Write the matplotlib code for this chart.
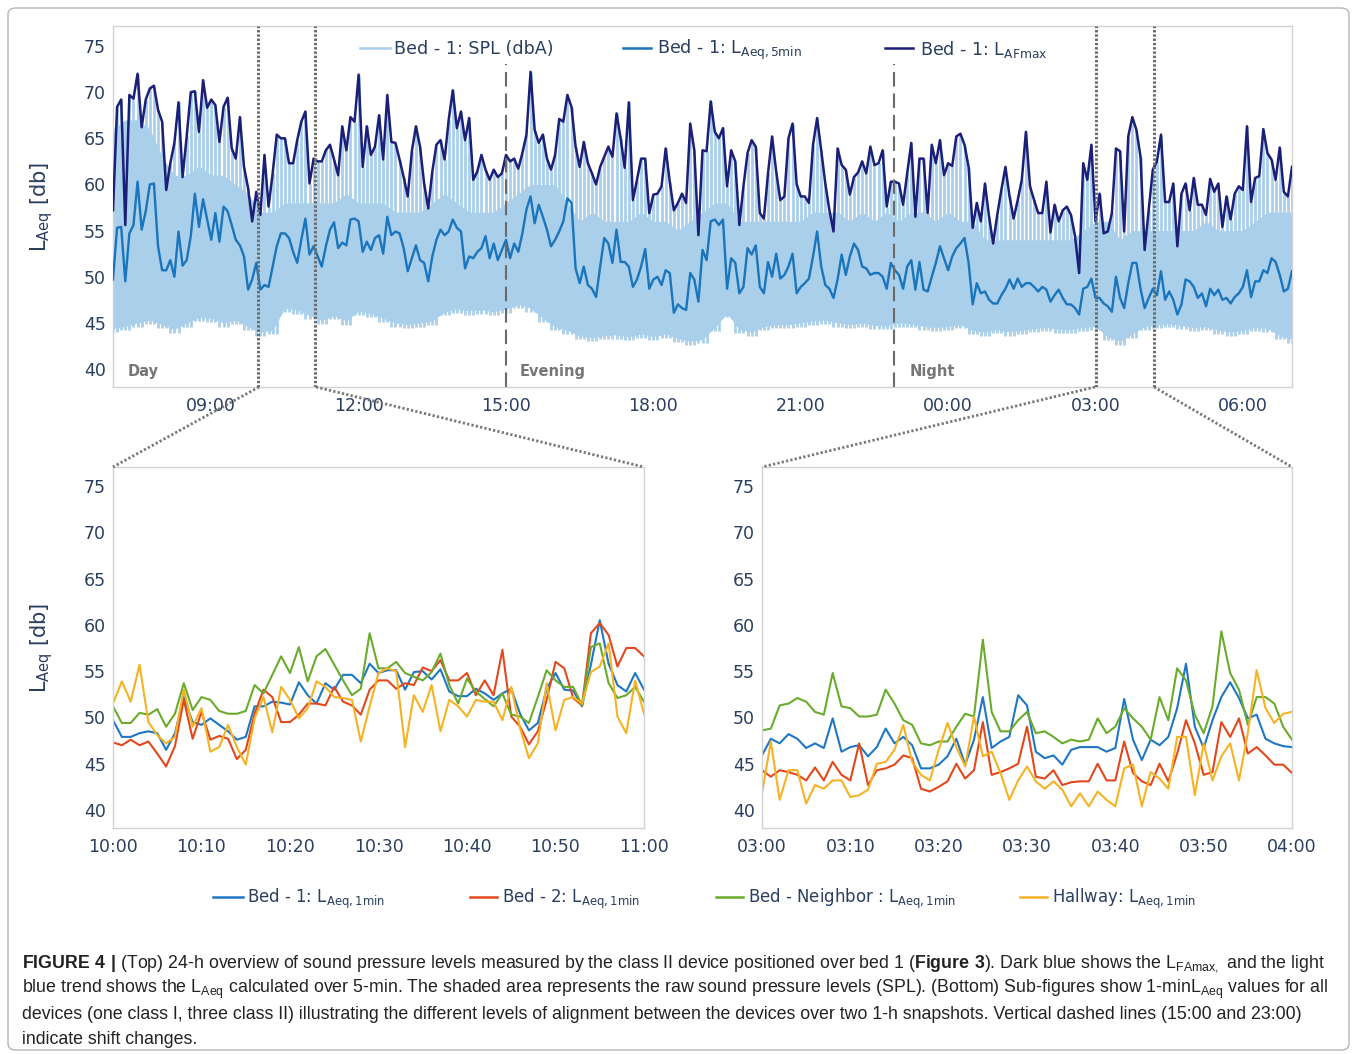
import numpy as np
import matplotlib
matplotlib.use("Agg")
import matplotlib.pyplot as plt
from matplotlib.lines import Line2D
from matplotlib.patches import FancyBboxPatch
from matplotlib import font_manager

# ---- top panel: 5-min values, 07:00 -> 07:00 next day ----
laeq_5min = [
    49.7, 55.3, 55.4, 49.5, 54.7, 55.6, 60.3, 55.1, 57.1, 60.0, 60.1, 53.3, 50.7, 50.7, 51.8, 50.0, 54.9, 51.2, 51.8, 54.4,
    59.0, 55.4, 58.4, 56.2, 54.0, 56.9, 53.8, 57.6, 57.1, 55.6, 54.0, 53.4, 52.2, 48.6, 49.7, 51.5, 48.6, 49.1, 48.9, 51.1,
    53.3, 54.7, 54.7, 54.2, 52.7, 51.5, 54.0, 56.3, 52.4, 53.3, 52.2, 51.1, 53.3, 55.1, 55.9, 53.1, 53.7, 53.4, 56.2, 56.3,
    56.0, 52.7, 53.8, 52.9, 54.2, 54.5, 52.5, 56.5, 54.5, 54.9, 54.7, 53.1, 50.6, 52.0, 53.4, 51.8, 51.5, 49.5, 52.2, 54.0,
    55.1, 54.5, 54.9, 56.2, 55.3, 54.9, 50.9, 52.2, 52.0, 52.7, 53.1, 54.4, 52.0, 53.6, 51.8, 52.9, 54.0,
    52.0, 53.6, 52.7, 54.7, 57.3, 58.7, 55.8, 57.8, 56.5, 55.1, 53.3, 54.0, 54.9, 56.0, 58.5, 58.0, 50.9, 49.3, 51.1, 49.1,
    48.7, 47.8, 51.1, 54.2, 53.6, 51.5, 55.1, 51.6, 51.6, 51.1, 48.9, 49.7, 51.1, 53.0, 48.7, 49.7, 50.0, 49.1, 50.7, 50.4,
    46.1, 47.0, 46.6, 46.4, 50.4, 49.7, 47.3, 52.9, 51.8, 56.0, 56.2, 55.6, 56.2, 48.7, 52.0, 51.5, 48.2, 48.9, 53.1, 52.4,
    53.4, 48.9, 48.2, 51.6, 50.0, 52.5, 49.8, 50.2, 51.1, 52.5, 48.2, 48.9, 49.3, 49.8, 52.2, 54.9, 51.1, 49.1,
    48.7, 47.7, 49.7, 52.4, 50.2, 52.2, 53.6, 52.9, 51.1, 50.9, 50.2, 50.4, 50.4, 50.0, 48.7, 51.5, 50.7, 50.2, 48.7, 51.1,
    51.8, 48.6, 51.6, 48.6, 48.4, 50.0, 51.5, 53.3, 52.0, 50.7, 52.2, 53.1, 53.6, 54.2, 51.5, 47.0, 49.3, 48.2, 48.4, 47.5,
    47.1, 47.1, 48.0, 48.7, 49.7, 48.7, 49.8, 48.9, 49.3, 49.3, 48.9, 48.4, 48.9, 48.6, 47.3, 48.0, 48.6,
    47.7, 47.0, 47.0, 46.6, 45.9, 48.7, 48.9, 49.8, 47.7, 47.7, 47.1, 46.8, 46.2, 50.0, 47.7, 46.6, 49.3, 51.5, 51.5, 48.7,
    46.6, 47.7, 48.7, 48.0, 50.6, 47.5, 48.4, 47.5, 45.9, 47.0, 49.7, 49.5, 48.9, 47.7, 48.2, 46.8, 48.7, 48.0, 48.6, 47.5,
    47.7, 47.1, 47.8, 48.2, 48.9, 50.7, 47.8, 49.5, 49.5, 50.7, 50.4, 52.0, 51.6, 50.2, 48.4, 48.7, 50.6,
]
lafmax_5min = [
    57.2, 68.4, 69.2, 55.6, 69.7, 69.3, 72.0, 66.2, 69.2, 70.4, 70.7, 68.1, 66.8, 59.4, 62.3, 64.5, 68.9, 60.8, 65.2, 70.0,
    70.1, 65.7, 71.3, 68.3, 69.2, 68.6, 64.6, 68.4, 69.4, 63.9, 62.8, 67.3, 61.9, 59.6, 56.0, 59.2, 56.7, 63.2, 57.6, 61.2,
    65.4, 65.0, 65.0, 62.3, 62.3, 64.8, 66.8, 67.9, 60.1, 62.8, 62.5, 62.5, 63.7, 64.3, 62.7, 61.0, 66.3, 63.7, 67.3, 66.8,
    71.9, 61.9, 66.3, 63.2, 64.1, 67.5, 62.7, 69.7, 64.6, 64.5, 62.7, 60.8, 58.7, 63.6, 66.3, 64.1, 60.1, 57.4, 61.4, 64.3,
    64.8, 62.7, 67.0, 70.2, 66.1, 67.9, 64.8, 67.2, 60.5, 61.4, 63.2, 61.6, 60.5, 61.6, 60.8, 61.2, 63.2,
    62.5, 62.8, 61.7, 63.4, 65.4, 72.2, 65.9, 64.5, 65.4, 62.8, 61.6, 63.2, 67.1, 66.8, 69.7, 68.4, 64.1, 61.9, 64.6, 62.3,
    61.2, 60.0, 61.9, 63.0, 64.1, 63.0, 67.7, 65.0, 61.8, 68.9, 58.3, 60.5, 62.8, 62.8, 56.9, 58.9, 59.0, 59.8, 63.9, 60.3,
    57.2, 58.0, 59.0, 58.0, 66.6, 63.7, 54.5, 63.7, 63.6, 69.0, 65.7, 65.0, 66.1, 59.8, 63.7, 62.5, 55.6, 59.8, 63.4, 64.8,
    64.1, 56.9, 56.3, 61.2, 65.2, 61.4, 58.3, 58.7, 65.0, 66.6, 60.0, 58.7, 58.7, 58.0, 64.3, 67.2, 63.7, 60.1,
    57.2, 54.9, 63.9, 62.1, 61.6, 58.9, 60.8, 61.3, 62.5, 61.2, 64.1, 62.1, 62.3, 63.7, 57.6, 60.3, 60.3, 60.1, 57.8, 61.2,
    64.5, 56.5, 62.8, 62.8, 56.9, 64.3, 62.3, 64.8, 61.0, 62.3, 62.0, 65.2, 65.5, 64.3, 61.9, 55.3, 58.0, 56.0, 60.1, 56.5,
    53.6, 56.7, 59.4, 61.9, 58.7, 56.3, 58.3, 60.5, 65.7, 59.8, 58.3, 56.9, 56.9, 60.3, 54.8, 57.8, 56.0,
    57.2, 57.6, 56.7, 54.4, 50.4, 62.3, 60.5, 64.3, 56.0, 59.0, 54.7, 54.9, 56.9, 63.9, 63.6, 54.9, 65.2, 67.3, 65.9, 63.0,
    52.9, 57.2, 61.6, 62.5, 65.4, 58.1, 58.1, 60.1, 53.3, 59.0, 60.1, 57.2, 60.7, 57.8, 57.8, 56.7, 60.6, 59.2, 60.1, 55.4,
    58.7, 56.2, 59.0, 59.8, 59.4, 66.3, 58.1, 60.7, 60.9, 66.0, 63.4, 62.7, 60.5, 64.0, 59.2, 58.7, 61.9,
]
# raw SPL band, 15-min resolution: lower edge and top of the dense part
spl_low = [
    44.4, 44.6, 45.0, 45.3, 44.8, 44.3, 45.0, 45.6, 45.5, 45.0, 45.3, 44.6, 44.0, 44.2, 46.6, 46.4, 45.8, 45.3, 45.8, 45.2,
    46.3, 46.0, 45.5, 45.0, 44.8, 45.0, 45.2, 46.2, 46.5, 46.3, 46.4, 46.2, 46.5, 47.0, 46.6, 45.5, 44.6, 44.2, 43.6,
    43.4, 43.6, 43.7, 43.5, 43.8, 43.5, 43.8, 43.3, 43.0, 43.2, 44.5, 46.0, 44.3, 44.0, 44.6, 44.8, 44.8, 45.0, 45.2, 45.3,
    45.0, 44.8, 45.0, 44.7, 44.7, 45.0, 44.9, 44.6, 44.5, 44.6, 44.8, 44.2, 44.0, 44.3, 44.0, 44.2, 44.4, 44.5, 44.3,
    44.3, 44.5, 44.6, 43.5, 43.0, 43.8, 44.6, 44.8, 44.9, 44.7, 44.5, 44.6, 44.2, 44.0, 44.2, 44.5, 44.4, 43.6, 43.2,
]
spl_dense = [
    66, 67, 67, 66, 63, 61, 61, 62, 61, 61, 60, 59, 57, 57, 58, 58, 58, 58, 58, 59,
    58, 58, 58, 57, 57, 57, 58, 59, 58, 57, 57, 57, 58, 59, 60, 60, 60, 58, 56,
    57, 56, 56, 56, 57, 56, 56, 55, 56, 57, 58, 58, 56, 56, 56, 56, 56, 56, 57, 57,
    57, 56, 57, 56, 57, 56, 57, 57, 56, 57, 56, 56, 54, 54, 54, 54, 54, 54, 54,
    54, 55, 56, 56, 54, 55, 55, 55, 55, 55, 55, 56, 55, 55, 55, 56, 57, 57, 57,
]
top_ticks = [9, 12, 15, 18, 21, 24, 27, 30]
top_labels = ["09:00", "12:00", "15:00", "18:00", "21:00", "00:00", "03:00", "06:00"]
shift_changes = [15.0, 22.9]
snapshots = [(9.96, 11.12), (27.0, 28.2)]
periods = [("Day", 7.3), ("Evening", 15.27), ("Night", 23.22)]

# ---- bottom panels: 1-min LAeq ----
am_bed1 = [49.7, 47.9, 47.9, 48.3, 48.5, 48.3, 46.5, 48.3, 52.2, 49.5, 49.2, 49.9, 49.2, 48.5, 47.6, 47.9, 51.2, 51.2,
           51.7, 51.6, 51.4, 53.8, 52.4, 51.5, 53.7, 53.0, 54.6, 54.6, 53.7, 55.8, 54.8, 55.1, 55.1, 53.0, 54.9, 55.0,
           54.1, 55.2, 52.8, 52.3, 52.3, 53.1, 52.6, 51.9, 52.6, 53.1, 50.4, 48.6, 49.4, 53.1, 54.8, 53.0, 52.9, 51.2,
           55.7, 60.5, 55.8, 53.5, 52.8, 54.8, 53.0]
am_bed2 = [47.3, 47.0, 47.6, 47.0, 47.4, 46.1, 44.7, 46.9, 51.9, 47.7, 50.6, 47.6, 48.0, 47.7, 45.5, 46.5, 50.4, 53.0,
           52.2, 49.5, 49.5, 50.3, 51.5, 51.5, 51.3, 53.3, 51.7, 51.3, 50.3, 53.0, 54.0, 54.0, 53.1, 53.7, 53.5, 55.4,
           55.0, 56.2, 54.0, 54.0, 54.8, 52.4, 54.0, 52.4, 57.3, 50.1, 49.0, 47.1, 48.5, 51.9, 56.0, 55.3, 52.1, 51.3,
           59.1, 60.2, 58.9, 55.5, 57.5, 57.5, 56.6]
am_neighbor = [51.2, 49.4, 49.4, 50.5, 50.3, 50.9, 49.0, 50.4, 53.7, 50.8, 52.2, 51.9, 50.7, 50.4, 50.4, 50.7, 53.5,
               52.6, 54.6, 56.6, 54.8, 57.6, 53.9, 56.6, 57.4, 55.7, 54.0, 52.4, 53.1, 59.1, 55.3, 55.3, 56.0, 54.8,
               54.4, 54.0, 54.9, 56.9, 53.5, 51.5, 54.2, 52.8, 52.0, 51.2, 52.6, 50.3, 50.1, 49.4, 52.2, 55.1, 54.0,
               53.3, 53.3, 51.3, 57.6, 58.0, 53.7, 52.1, 52.4, 53.3, 51.7]
am_hallway = [51.5, 53.9, 51.7, 55.7, 49.5, 48.1, 47.2, 47.9, 53.0, 49.0, 51.0, 46.3, 46.8, 49.2, 46.8, 44.9, 49.9,
              52.2, 48.4, 53.3, 51.9, 49.9, 51.0, 53.9, 53.3, 52.2, 52.1, 51.9, 47.4, 51.2, 54.8, 55.3, 55.0, 46.8,
              52.4, 50.6, 53.5, 48.5, 51.9, 51.2, 50.1, 51.9, 51.7, 51.7, 49.7, 53.3, 48.8, 45.6, 47.2, 53.7, 48.6,
              51.9, 52.2, 51.5, 54.9, 55.5, 58.0, 50.1, 48.3, 54.0, 50.4]
night_bed1 = [45.9, 47.7, 47.2, 48.2, 47.7, 46.7, 47.2, 46.7, 49.9, 46.3, 46.8, 47.0, 45.8, 46.8, 48.8, 47.2, 47.9,
              47.0, 44.5, 44.5, 44.9, 45.8, 47.7, 44.9, 47.6, 52.2, 46.7, 47.4, 47.9, 52.4, 51.3, 46.3, 45.6, 45.9,
              44.9, 46.5, 46.8, 46.8, 46.8, 46.3, 46.7, 52.0, 47.6, 45.4, 47.6, 47.0, 47.9, 51.0, 55.8, 49.0, 46.7,
              49.7, 52.2, 53.8, 52.1, 49.9, 50.3, 47.7, 47.2, 46.9, 46.8]
night_bed2 = [44.3, 43.6, 44.3, 44.1, 43.8, 43.2, 44.6, 43.2, 45.2, 43.8, 43.2, 47.2, 42.7, 44.3, 44.5, 44.9, 45.9,
              45.6, 42.3, 42.0, 42.5, 43.1, 45.0, 43.4, 44.3, 49.5, 43.8, 44.1, 44.5, 45.0, 49.0, 43.6, 43.4, 44.3,
              42.7, 43.0, 43.1, 43.1, 45.0, 43.2, 43.2, 47.4, 44.0, 43.1, 42.7, 45.0, 43.1, 46.1, 49.7, 47.2, 43.8,
              44.1, 49.5, 47.9, 49.9, 46.1, 46.8, 45.9, 44.9, 44.9, 44.0]
night_neighbor = [48.6, 48.8, 51.3, 51.5, 52.1, 51.7, 50.6, 50.3, 54.8, 51.2, 51.0, 50.1, 50.1, 50.3, 53.0, 51.5,
                  49.7, 49.2, 47.2, 47.0, 47.4, 47.4, 49.0, 50.4, 50.1, 58.4, 50.6, 48.5, 48.5, 49.7, 50.6, 48.3,
                  48.5, 47.9, 47.2, 47.6, 47.4, 47.6, 49.9, 48.3, 49.0, 51.0, 49.9, 49.0, 47.6, 52.2, 49.7, 55.3,
                  54.0, 50.3, 48.3, 51.2, 59.3, 54.8, 53.0, 49.2, 52.2, 52.2, 51.5, 49.0, 47.6]
night_hallway = [41.8, 47.4, 41.1, 44.3, 44.3, 40.7, 42.7, 42.3, 43.2, 43.2, 41.4, 41.6, 42.2, 45.0, 45.2, 46.5,
                 49.2, 45.2, 43.8, 43.2, 46.5, 49.4, 46.8, 44.7, 50.1, 45.8, 46.3, 44.0, 41.1, 43.2, 44.7, 43.1,
                 42.3, 43.1, 42.2, 40.4, 41.8, 40.4, 42.0, 41.1, 40.4, 44.5, 44.9, 40.4, 44.1, 43.4, 42.3, 47.9,
                 47.9, 41.6, 47.2, 43.2, 45.8, 47.2, 43.2, 48.3, 55.1, 51.0, 49.4, 50.4, 50.6]
am_labels = ["10:00", "10:10", "10:20", "10:30", "10:40", "10:50", "11:00"]
night_labels = ["03:00", "03:10", "03:20", "03:30", "03:40", "03:50", "04:00"]

# ---- styling ----
W, H = 1357, 1054
ink = "#2a3f5f"
c_spl, c_laeq, c_max = "#a9cfea", "#1a75bd", "#1b1f78"
c_b1, c_b2, c_nb, c_hw = "#1f77c4", "#e2481c", "#6aab2c", "#f5b223"
frame_col = "#d2d2d2"

names = {f.name for f in font_manager.fontManager.ttflist}
cap_font = "Liberation Sans Narrow" if "Liberation Sans Narrow" in names else "Liberation Sans"
cap_size = 12.3 if cap_font.endswith("Narrow") else 12.8
plt.rcParams["font.family"] = ["DejaVu Sans"]
plt.rcParams["mathtext.fontset"] = "custom"
plt.rcParams["mathtext.rm"] = cap_font
plt.rcParams["mathtext.bf"] = cap_font + ":bold"

fig = plt.figure(figsize=(W / 100, H / 100), dpi=100)


def px_axes(x0, y0, x1, y1):
    return fig.add_axes([x0 / W, 1 - y1 / H, (x1 - x0) / W, (y1 - y0) / H])


def style(ax):
    for s in ax.spines.values():
        s.set_color(frame_col)
        s.set_linewidth(1.0)
    ax.tick_params(length=0, labelsize=12.5, labelcolor=ink, pad=7)
    ax.tick_params(axis="y", pad=5)
    ax.set_yticks(range(40, 80, 5))


# top panel
ax = px_axes(113, 26, 1292, 387)
t5 = 7 + np.arange(len(lafmax_5min)) / 12
t15 = 7 + np.arange(len(spl_low)) / 4
idx = np.clip(np.round(np.arange(len(lafmax_5min)) / 3).astype(int), 0, len(spl_dense) - 1)
ax.fill_between(t15, spl_low, spl_dense, color=c_spl, lw=0, zorder=1)
ax.vlines(t5, np.array(spl_low)[idx] - 0.4, lafmax_5min, color=c_spl, lw=2.0, zorder=1)
ax.plot(7 + np.arange(len(laeq_5min)) / 12, laeq_5min, color=c_laeq, lw=1.7, zorder=3)
ax.plot(t5, lafmax_5min, color=c_max, lw=1.8, zorder=3)
for x in shift_changes:
    ax.plot([x, x], [38, 73], color="#6b6b6b", lw=1.5, dashes=(7, 3.3), zorder=4)
for pair in snapshots:
    for x in pair:
        ax.axvline(x, color="#6e6e6e", lw=2.2, dashes=(0.8, 0.6), zorder=4)
for name, x in periods:
    ax.text(x, 39.7, name, color="#767676", fontsize=10.5, fontweight="bold", va="center")
ax.set_xlim(7, 31)
ax.set_ylim(38.05, 77.17)
ax.set_xticks(top_ticks)
ax.set_xticklabels(top_labels)
style(ax)
ax.set_ylabel(r"$\mathregular{L_{Aeq}}$ [db]", fontsize=15, color=ink)
ax.yaxis.set_label_coords(-0.049, 0.5)

# top legend
top_leg = [(360, 390, 394, c_spl, "Bed - 1: SPL (dbA)"),
           (623, 651, 657, c_laeq, r"Bed - 1: $\mathregular{L_{Aeq,5min}}$"),
           (885, 913, 920, c_max, r"Bed - 1: $\mathregular{L_{AFmax}}$")]
for x0, x1, xt, col, lab in top_leg:
    fig.add_artist(Line2D([x0 / W, x1 / W], [1 - 48 / H] * 2, color=col, lw=1.8))
    fig.text(xt / W, 1 - 54.5 / H, lab, fontsize=12.6, color=ink, va="baseline")

# bottom panels
minutes = np.arange(61)
panels = [((113, 467, 644, 828), (am_bed1, am_bed2, am_neighbor, am_hallway), am_labels, True),
          ((762, 467, 1292, 828), (night_bed1, night_bed2, night_neighbor, night_hallway), night_labels, False)]
for box, series, labels, with_label in panels:
    bx = px_axes(*box)
    for vals, col in zip(series, (c_b1, c_b2, c_nb, c_hw)):
        bx.plot(minutes[:len(vals)], vals, color=col, lw=1.5)
    bx.set_xlim(0, 60)
    bx.set_ylim(38.06, 77.05)
    bx.set_xticks(range(0, 61, 10))
    bx.set_xticklabels(labels)
    style(bx)
    if with_label:
        bx.set_ylabel(r"$\mathregular{L_{Aeq}}$ [db]", fontsize=15, color=ink)
        bx.yaxis.set_label_coords(-0.109, 0.5)

# zoom connectors
for (xa, xb), (ya, yb) in [((259, 113), (387, 467)), ((316, 644), (387, 467)),
                            ((1095, 762), (387, 467)), ((1154, 1292), (387, 467))]:
    fig.add_artist(Line2D([xa / W, xb / W], [1 - ya / H, 1 - yb / H], color="#777777",
                          lw=2.0, dashes=(0.8, 0.8)))

# bottom legend
bot_leg = [(213, 243, 247, c_b1, r"Bed - 1: $\mathregular{L_{Aeq,1min}}$"),
           (470, 497, 502, c_b2, r"Bed - 2: $\mathregular{L_{Aeq,1min}}$"),
           (716, 743, 748, c_nb, r"Bed - Neighbor : $\mathregular{L_{Aeq,1min}}$"),
           (1020, 1047, 1052, c_hw, r"Hallway: $\mathregular{L_{Aeq,1min}}$")]
for x0, x1, xt, col, lab in bot_leg:
    fig.add_artist(Line2D([x0 / W, x1 / W], [1 - 897 / H] * 2, color=col, lw=1.8))
    fig.text(xt / W, 1 - 903 / H, lab, fontsize=13.2, color=ink, va="baseline",
             fontstretch="condensed")

# caption
cap = [
    r"$\mathbf{FIGURE\ 4\ |}$ (Top) 24-h overview of sound pressure levels measured by the class II device positioned over bed 1 ($\mathbf{Figure\ 3}$). Dark blue shows the L$_{\mathregular{FAmax,}}$ and the light",
    r"blue trend shows the L$_{\mathregular{Aeq}}$ calculated over 5-min. The shaded area represents the raw sound pressure levels (SPL). (Bottom) Sub-figures show 1-minL$_{\mathregular{Aeq}}$ values for all",
    r"devices (one class I, three class II) illustrating the different levels of alignment between the devices over two 1-h snapshots. Vertical dashed lines (15:00 and 23:00)",
    "indicate shift changes.",
]
for k, line in enumerate(cap):
    fig.text(22 / W, 1 - (968 + 25.3 * k) / H, line, fontsize=cap_size, family=cap_font,
             color="#222222", va="baseline")

# outer frame
fig.add_artist(FancyBboxPatch((8 / W, 4 / H), 1341 / W, 1042 / H, boxstyle="round,pad=0,rounding_size=0.006",
                              transform=fig.transFigure, fill=False, edgecolor="#b5b5b5", lw=1.0))

fig.savefig("out.png", dpi=100)
